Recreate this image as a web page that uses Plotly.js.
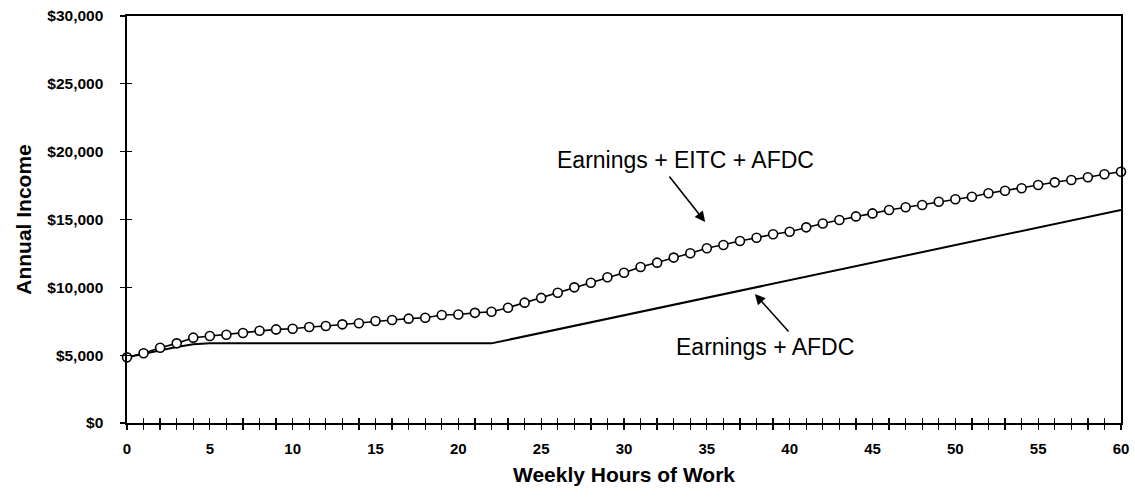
<!DOCTYPE html>
<html>
<head>
<meta charset="utf-8">
<script src="https://cdn.plot.ly/plotly-3.0.1.min.js"></script>
<style>
  html, body { margin: 0; padding: 0; background: #ffffff; }
  #chart { width: 1135px; height: 503px; }
</style>
</head>
<body>
<div id="chart"></div>
<script>
// Weekly hours of work (x) for the marker series
const hours = [0,1,2,3,4,5,6,7,8,9,10,11,12,13,14,15,16,17,18,19,20,21,22,23,24,25,26,27,28,29,30,
               31,32,33,34,35,36,37,38,39,40,41,42,43,44,45,46,47,48,49,50,51,52,53,54,55,56,57,58,59,60];
// Earnings + EITC + AFDC (annual income, $)
const incomeEitcAfdc = [4840,5140,5550,5870,6290,6410,6510,6630,6800,6900,6950,7080,7150,7270,7350,7520,
                        7590,7690,7760,7960,8000,8120,8200,8500,8870,9220,9600,10000,10340,10740,11080,
                        11500,11820,12190,12510,12880,13120,13410,13660,13910,14100,14420,14700,14960,15230,
                        15450,15700,15900,16070,16310,16490,16680,16930,17120,17300,17540,17740,17910,18110,
                        18330,18520];
// Earnings + AFDC (breakpoints of the solid line)
const afdcHours = [0,1,2,3,4,5,22,60];
const incomeAfdc = [4840,5100,5350,5600,5800,5870,5870,15700];

const xTickVals = [0,5,10,15,20,25,30,35,40,45,50,55,60];
const yTickVals = [0,5000,10000,15000,20000,25000,30000];
const yTickText = ["$0","$5,000","$10,000","$15,000","$20,000","$25,000","$30,000"];
const seriesNames = ["Earnings + EITC + AFDC", "Earnings + AFDC"];
const xTitle = "Weekly Hours of Work";
const yTitle = "Annual Income";

const FONT = "Liberation Sans, Arial, Helvetica, sans-serif";

const traces = [
  {
    x: afdcHours, y: incomeAfdc, name: seriesNames[1],
    type: "scatter", mode: "lines",
    line: { color: "#000000", width: 2 },
    cliponaxis: false, showlegend: false, hoverinfo: "skip"
  },
  {
    x: hours, y: incomeEitcAfdc, name: seriesNames[0],
    type: "scatter", mode: "lines+markers",
    line: { color: "#000000", width: 1.6 },
    marker: { symbol: "circle", size: 9, color: "#ffffff", line: { color: "#000000", width: 1.6 } },
    cliponaxis: false, showlegend: false, hoverinfo: "skip"
  },
  {
    x: [null], y: [null], xaxis: "x2", yaxis: "y2",
    type: "scatter", mode: "markers", showlegend: false, hoverinfo: "skip"
  }
];

const layout = {
  width: 1135, height: 503,
  margin: { l: 127, r: 14, t: 16, b: 80, pad: 0 },
  paper_bgcolor: "#ffffff", plot_bgcolor: "#ffffff",
  showlegend: false,
  font: { family: FONT, color: "#000000" },
  xaxis: {
    range: [0, 60], tickvals: xTickVals, ticks: "outside", ticklen: 5, tickwidth: 1.3, tickcolor: "#000",
    minor: { dtick: 1, ticks: "outside", ticklen: 5, tickwidth: 1.3, tickcolor: "#000", showgrid: false },
    showline: true, linecolor: "#000", linewidth: 1.6, mirror: true,
    showgrid: false, zeroline: false,
    tickfont: { family: FONT, size: 15, weight: "bold", color: "#000" },
    ticklabelstandoff: 6,
    title: { text: xTitle, font: { family: FONT, size: 21, weight: "bold", color: "#000" }, standoff: 12 }
  },
  yaxis: {
    range: [0, 30000], tickvals: yTickVals, ticktext: yTickText,
    ticks: "outside", ticklen: 5, tickwidth: 1.3, tickcolor: "#000",
    showline: true, linecolor: "#000", linewidth: 1.6, mirror: true,
    showgrid: false, zeroline: false,
    tickfont: { family: FONT, size: 15.5, weight: "bold", color: "#000" },
    ticklabelstandoff: 14,
    title: { text: yTitle, font: { family: FONT, size: 21, weight: "bold", color: "#000" }, standoff: 10 }
  },
  xaxis2: {
    overlaying: "x", anchor: "y", range: [0, 60], dtick: 1, tick0: 0,
    ticks: "inside", ticklen: 5, tickwidth: 1.3, tickcolor: "#000",
    showticklabels: false, showline: false, showgrid: false, zeroline: false
  },
  yaxis2: {
    overlaying: "y", anchor: "x", side: "left", range: [0, 30000], tickvals: yTickVals,
    ticks: "inside", ticklen: 5, tickwidth: 1.3, tickcolor: "#000",
    showticklabels: false, showline: false, showgrid: false, zeroline: false
  },
  annotations: [
    {
      x: 33.7, y: 19400, xref: "x", yref: "y", text: seriesNames[0], showarrow: false,
      xanchor: "center", yanchor: "middle",
      font: { family: FONT, size: 23, color: "#000" }
    },
    {
      x: 34.9, y: 14820, xref: "x", yref: "y", text: "", showarrow: true,
      ax: -37, ay: -47, arrowhead: 2, arrowsize: 1.3, arrowwidth: 1.6, arrowcolor: "#000"
    },
    {
      x: 38.5, y: 5600, xref: "x", yref: "y", text: seriesNames[1], showarrow: false,
      xanchor: "center", yanchor: "middle",
      font: { family: FONT, size: 23, color: "#000" }
    },
    {
      x: 37.9, y: 9510, xref: "x", yref: "y", text: "", showarrow: true,
      ax: 35, ay: 39, arrowhead: 2, arrowsize: 1.3, arrowwidth: 1.6, arrowcolor: "#000"
    }
  ]
};

Plotly.newPlot("chart", traces, layout, { staticPlot: true, displayModeBar: false });
</script>
</body>
</html>
